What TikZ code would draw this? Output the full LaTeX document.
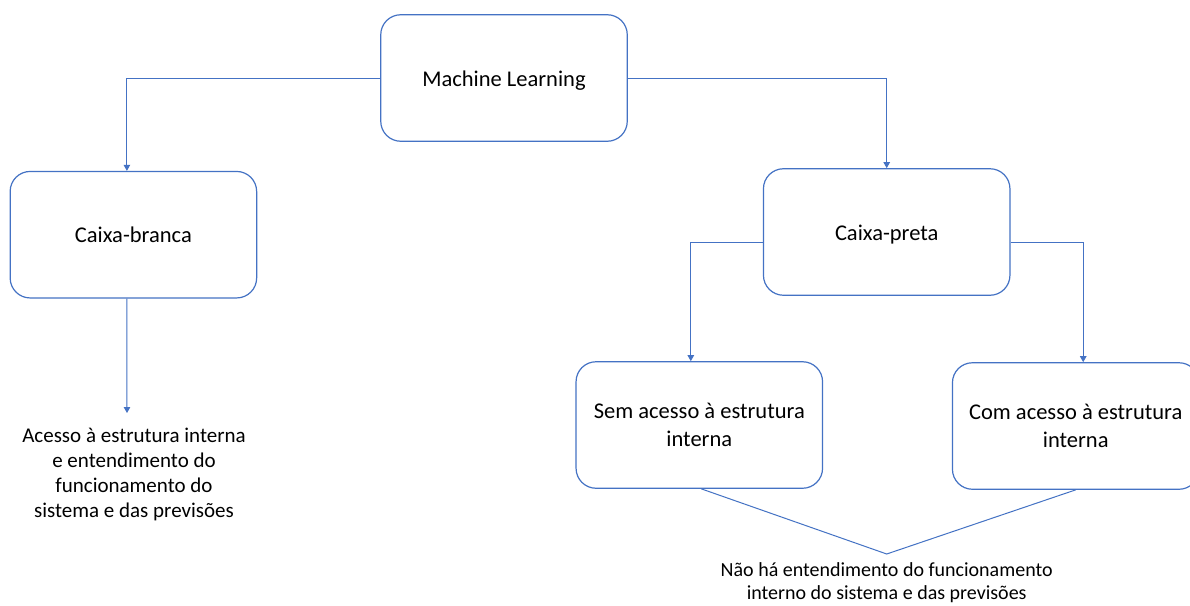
\documentclass[tikz,border=0pt]{standalone}
\usepackage{fontspec}
\setmainfont{Carlito}
\usetikzlibrary{arrows.meta}
\definecolor{boxblue}{HTML}{4472C4}
\tikzset{
  rbox/.style={draw=boxblue, line width=1.2pt, rounded corners=20pt, minimum width=246.5pt, minimum height=126.5pt, inner sep=0pt, align=center, font=\fontsize{22.5}{27.5}\selectfont, text=black},
  oneline/.style={text height=16pt, text depth=0pt},
  conn/.style={draw=boxblue, line width=1pt},
  arr/.style={conn, -{Triangle[length=6pt,width=6.5pt]}},
  note/.style={align=center, inner sep=0pt, text=black}
}
\begin{document}
\begin{tikzpicture}[x=1pt,y=-1pt]
\useasboundingbox[fill=white] (0,0) rectangle (1190,605);
\node[rbox, oneline] (ml) at (504,78) {Machine Learning};
\node[rbox, oneline] (cb) at (133.4,234.7) {Caixa-branca};
\node[rbox, oneline] (cp) at (886.7,232) {Caixa-preta};
\node[rbox] (sem) at (699.3,425) {Sem acesso à estrutura\\interna};
\node[rbox] (com) at (1075.7,426) {Com acesso à estrutura\\interna};
\node[note, font=\fontsize{21}{25}\selectfont] (acc) at (134,474) {Acesso à estrutura interna\\e entendimento do\\funcionamento do\\sistema e das previsões};
\node[note, font=\fontsize{20}{23}\selectfont] (nao) at (886.7,582.5) {Não há entendimento do funcionamento\\interno do sistema e das previsões};
\coordinate (apex) at (886.7,554);
\coordinate (accin) at (127,413);
\draw[arr] (ml.west) -| ([xshift=-6.5pt]cb.north);
\draw[arr] (ml.east) -| (cp.north);
\draw[arr] ([xshift=-6.5pt]cb.south) -- (accin);
\draw[arr] ([yshift=-10pt]cp.west) -| ([xshift=-8.5pt]sem.north);
\draw[arr] ([yshift=-10pt]cp.east) -| ([xshift=7.5pt]com.north);
\draw[conn] ([xshift=2pt]sem.south) -- (apex) -- (com.south);
\end{tikzpicture}
\end{document}
